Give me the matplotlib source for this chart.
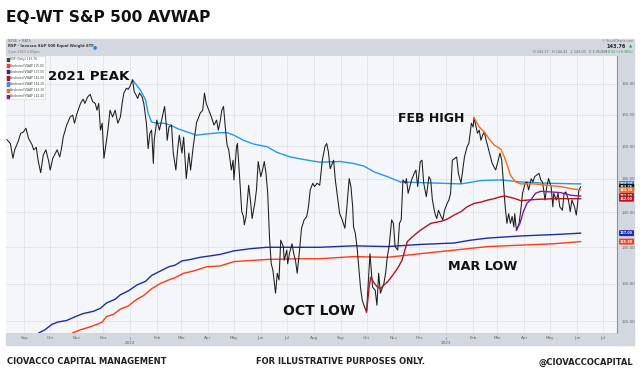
import numpy as np
import matplotlib
matplotlib.use("Agg")
import matplotlib.pyplot as plt
import matplotlib.dates as mdates
from matplotlib.ticker import FixedLocator, NullLocator, NullFormatter, FuncFormatter
from matplotlib.patches import Rectangle, Patch

# ---- data (days counted from 2021-08-11, prices in $) ----
start = np.datetime64("2021-08-11")

rsp_day = [1, 5, 8, 10, 14, 17, 20, 23, 26, 30,
           32, 35, 37, 40, 43, 46, 49, 51, 54, 57,
           59, 62, 64, 66, 70, 74, 77, 79, 82, 86,
           89, 91, 94, 97, 100, 103, 105, 107, 109, 111,
           113, 116, 118, 120, 123, 126, 129, 132, 134, 136,
           139, 141, 143, 146, 148, 150, 152, 154, 157, 159,
           162, 164, 166, 168, 170, 171, 174, 177, 180, 183,
           185, 186, 188, 191, 193, 196, 198, 200, 203, 205,
           208, 211, 213, 216, 220, 222, 224, 227, 229, 231,
           234, 237, 240, 243, 245, 247, 249, 251, 253, 255,
           257, 260, 262, 263, 266, 267, 270, 272, 274, 275,
           277, 280, 282, 284, 287, 289, 291, 294, 296, 298,
           300, 302, 304, 306, 308, 311, 313, 315, 317, 320,
           321, 324, 325, 327, 330, 332, 334, 336, 338, 341,
           344, 347, 349, 351, 354, 356, 359, 362, 365, 368,
           370, 372, 374, 378, 380, 383, 385, 388, 391, 393,
           396, 398, 400, 401, 403, 405, 407, 409, 411, 413,
           416, 418, 420, 423, 426, 428, 430, 432, 436, 438,
           440, 442, 445, 447, 449, 452, 454, 456, 458, 461,
           462, 464, 466, 468, 471, 473, 475, 478, 480, 482,
           485, 488, 490, 492, 495, 497, 499, 502, 504, 506,
           509, 511, 513, 515, 518, 520, 522, 525, 527, 529,
           532, 534, 535, 537, 539, 540, 542, 544, 546, 548,
           550, 552, 554, 556, 559, 561, 563, 565, 568, 570,
           572, 574, 576, 578, 580, 582, 584, 586, 587, 589,
           592, 594, 596, 599, 601, 603, 606, 608, 610, 612,
           615, 617, 619, 622, 624, 626, 629, 631, 632, 635,
           637, 639, 642, 644, 646, 649, 651, 653, 656, 658,
           660, 661, 663]
rsp_close = [151.0, 150.4, 148.1, 149.4, 150.7, 152.0, 152.2, 152.8, 151.2, 150.2,
             149.4, 149.8, 147.8, 145.9, 148.6, 149.4, 147.8, 146.3, 148.1, 148.9,
             149.4, 148.3, 149.6, 151.4, 153.3, 154.6, 154.9, 153.6, 155.2, 156.8,
             157.5, 156.8, 157.8, 158.3, 157.1, 156.8, 155.7, 156.8, 152.5, 153.6,
             148.1, 150.9, 153.0, 155.7, 154.6, 155.7, 153.6, 154.6, 156.8, 158.5,
             159.3, 159.1, 159.6, 160.7, 158.7, 158.2, 157.6, 158.5, 157.9, 156.8,
             153.6, 149.6, 152.0, 152.5, 147.3, 150.9, 154.1, 152.5, 154.4, 156.3,
             153.3, 150.9, 153.0, 153.3, 148.9, 146.3, 149.4, 151.7, 148.9, 151.4,
             145.0, 148.9, 146.3, 149.9, 153.8, 154.4, 155.2, 155.7, 158.5, 156.8,
             155.7, 154.6, 153.3, 154.1, 152.5, 153.8, 155.7, 156.3, 153.0, 150.2,
             149.4, 146.3, 147.8, 144.8, 149.9, 150.4, 144.3, 140.1, 139.4, 138.2,
             139.4, 144.0, 141.8, 139.1, 141.3, 143.3, 147.6, 145.3, 146.3, 147.6,
             145.8, 142.8, 136.5, 132.7, 131.8, 128.7, 131.4, 130.5, 136.0, 135.1,
             133.2, 134.6, 132.7, 134.1, 135.5, 134.1, 133.2, 131.4, 133.7, 137.7,
             138.9, 139.4, 140.8, 143.3, 144.3, 143.8, 144.3, 144.0, 147.8, 149.9,
             150.4, 149.1, 146.5, 147.8, 144.8, 141.8, 139.8, 138.9, 137.7, 140.3,
             145.0, 143.8, 140.8, 137.9, 137.0, 135.1, 132.3, 129.5, 127.8, 127.1,
             126.2, 130.0, 134.1, 129.5, 129.1, 127.1, 131.4, 128.7, 130.0, 131.4,
             133.7, 135.1, 138.9, 138.4, 135.1, 134.6, 138.4, 138.9, 144.8, 144.3,
             145.0, 142.8, 143.8, 144.8, 145.8, 146.3, 143.8, 147.6, 147.8, 144.3,
             142.3, 145.3, 144.8, 141.8, 139.8, 139.1, 140.3, 139.4, 138.9, 140.3,
             141.3, 141.8, 142.8, 147.8, 148.1, 148.3, 145.8, 144.3, 146.3, 148.3,
             149.9, 150.4, 151.4, 153.6, 153.0, 154.5, 153.3, 152.0, 152.5, 150.9,
             151.7, 152.2, 150.9, 149.9, 148.3, 147.3, 146.8, 146.3, 147.8, 148.9,
             147.8, 144.3, 140.8, 138.4, 139.8, 138.4, 139.4, 137.9, 139.8, 137.4,
             138.4, 140.3, 142.8, 144.3, 144.5, 143.3, 145.0, 144.5, 145.3, 145.5,
             145.8, 144.8, 144.5, 141.8, 143.8, 145.0, 143.8, 140.8, 142.8, 141.8,
             142.8, 140.8, 140.3, 142.8, 143.0, 141.8, 140.1, 141.8, 140.8, 139.6,
             141.8, 143.3, 143.76]

# anchored VWAP lines
ored_day = [77, 86, 95, 105, 111, 116, 124, 132, 141, 151,
            159, 168, 178, 188, 195, 205, 216, 232, 247, 263,
            301, 340, 362, 401, 440, 478, 517, 556, 594, 633, 663]
ored_vwap = [123.5, 123.9, 124.2, 124.6, 124.9, 125.6, 125.9, 126.6, 127.0, 127.9,
             128.4, 129.3, 130.0, 130.5, 130.8, 131.4, 131.7, 132.3, 132.4, 133.0,
             133.3, 133.4, 133.4, 133.7, 133.6, 134.1, 134.6, 135.1, 135.3, 135.5, 135.8]

navy_day = [38, 45, 53, 60, 70, 80, 89, 101, 109, 116,
            126, 132, 141, 151, 161, 168, 178, 188, 195, 203,
            213, 224, 236, 247, 263, 282, 301, 328, 362, 401,
            440, 478, 517, 536, 556, 594, 633, 663]
navy_vwap = [123.5, 123.9, 124.6, 124.9, 125.1, 125.6, 126.0, 126.3, 126.7, 127.4,
             127.9, 128.5, 129.0, 129.8, 130.3, 131.1, 131.7, 132.3, 132.5, 133.1,
             133.3, 133.6, 133.8, 134.0, 134.5, 134.8, 135.0, 135.0, 135.0, 135.2,
             135.1, 135.4, 135.6, 136.0, 136.3, 136.6, 136.8, 137.0]

oct_day = [416, 419, 421, 424, 428, 432, 436, 440, 446, 452,
           457, 463, 471, 478, 490, 502, 509, 517, 525, 532,
           540, 548, 556, 563, 571, 575, 582, 590, 594, 602,
           613, 633, 663]
oct_vwap = [126.2, 129.5, 130.9, 130.2, 129.6, 129.3, 129.8, 130.2, 131.1, 132.1,
            133.2, 135.8, 136.7, 137.4, 138.4, 138.7, 139.0, 139.6, 140.1, 140.8,
            141.3, 141.5, 141.8, 142.0, 142.3, 142.4, 142.2, 141.9, 141.7, 141.8,
            141.9, 142.0, 142.0]

peak_day = [146, 155, 161, 164, 168, 174, 182, 190, 197, 209,
            220, 232, 247, 255, 263, 274, 286, 301, 313, 328,
            344, 362, 386, 401, 413, 425, 440, 455, 478, 502,
            525, 548, 571, 594, 625, 663]
peak_vwap = [160.7, 159.0, 157.4, 155.2, 153.8, 153.6, 153.6, 153.3, 152.8, 152.2,
             151.7, 151.9, 152.1, 152.1, 151.7, 150.9, 150.3, 149.9, 149.0, 148.3,
             147.9, 147.5, 147.6, 147.3, 146.9, 146.0, 145.3, 144.5, 144.4, 144.3,
             144.2, 144.7, 144.8, 144.5, 144.3, 144.2]

feb_day = [540, 546, 552, 557, 563, 571, 575, 579, 582, 588, 594, 609, 625, 640, 652, 663]
feb_vwap = [154.5, 153.0, 152.2, 151.2, 150.2, 149.5, 148.3, 146.8, 145.5, 144.5,
            144.2, 144.2, 144.0, 143.8, 143.5, 143.3]

mar_day = [589, 593, 597, 601, 606, 611, 617, 629, 640, 652, 663]
mar_vwap = [137.4, 138.4, 140.1, 141.3, 141.9, 142.8, 143.1, 143.0, 142.9, 142.5, 142.4]

price_ticks = [125, 130, 135, 140, 145, 150, 155, 160]

# ---- figure ----
W, H = 640, 377
fig = plt.figure(figsize=(6.4, 3.77), dpi=100)
fig.patch.set_facecolor("white")

def fx(x):
    return x / W

def fy(y):
    return 1 - y / H

band = "#d3d7e0"
fig.add_artist(Rectangle((fx(6), fy(56)), (634 - 6) / W, (56 - 39) / H,
                         transform=fig.transFigure, color=band, zorder=-2))
fig.add_artist(Rectangle((fx(617), fy(345)), (634 - 617) / W, (345 - 56) / H,
                         transform=fig.transFigure, color=band, zorder=-2))
fig.add_artist(Rectangle((fx(6), fy(345)), (634 - 6) / W, (345 - 333) / H,
                         transform=fig.transFigure, color=band, zorder=-2))

ax = fig.add_axes([fx(6), fy(333), (617 - 6) / W, (333 - 56) / H])
ax.set_facecolor("#f5f6fa")

def dates(days):
    return start + np.array(days, dtype="timedelta64[D]")

c_price = "#1c1c1c"
c_ored = "#ff3b14"
c_navy = "#1a2ea8"
c_oct = "#b3161b"
c_peak = "#1e9bf0"
c_feb = "#ff6a10"
c_mar = "#7a1fa8"

ax.plot(dates(navy_day), navy_vwap, color=c_navy, lw=1.0, zorder=3)
ax.plot(dates(ored_day), ored_vwap, color=c_ored, lw=1.0, zorder=3)
ax.plot(dates(peak_day), peak_vwap, color=c_peak, lw=1.0, zorder=3)
ax.plot(dates(rsp_day), rsp_close, color=c_price, lw=0.75, zorder=4)
ax.plot(dates(oct_day), oct_vwap, color=c_oct, lw=1.0, zorder=5)
ax.plot(dates(feb_day), feb_vwap, color=c_feb, lw=1.0, zorder=5)
ax.plot(dates(mar_day), mar_vwap, color=c_mar, lw=1.0, zorder=5)

ax.set_yscale("log")
ax.set_ylim(123.48, 164.73)
ax.yaxis.set_major_locator(FixedLocator(price_ticks))
ax.yaxis.set_minor_locator(NullLocator())
ax.yaxis.set_minor_formatter(NullFormatter())
ax.yaxis.set_major_formatter(FuncFormatter(lambda v, p: f"{v:.2f}"))
ax.yaxis.tick_right()
ax.tick_params(axis="y", length=0, labelsize=2.8, labelcolor="#666", pad=3.5)

ax.set_xlim(np.datetime64("2021-08-11"), np.datetime64("2023-07-17"))
ax.xaxis.set_major_locator(mdates.MonthLocator())

def month_fmt(v, p):
    d = mdates.num2date(v)
    if d.month == 1:
        return "|\n" + str(d.year)
    return d.strftime("%b")

ax.xaxis.set_major_formatter(FuncFormatter(month_fmt))
ax.tick_params(axis="x", length=0, labelsize=3.0, labelcolor="#666", pad=2.5)

ax.grid(color="#e1e3e9", lw=0.6)
ax.set_axisbelow(True)
for s in ["top", "left", "bottom"]:
    ax.spines[s].set_visible(False)
ax.spines["right"].set_color("#8d929c")
ax.spines["right"].set_linewidth(0.8)

# legend box
handles = [Patch(color="#444444", label=f"RSP (Daily) {rsp_close[-1]:.2f}"),
           Patch(color=c_ored, label=f"Anchored VWAP {ored_vwap[-1]:.2f}"),
           Patch(color=c_navy, label=f"Anchored VWAP {navy_vwap[-1]:.2f}"),
           Patch(color=c_oct, label=f"Anchored VWAP {oct_vwap[-1]:.2f}"),
           Patch(color=c_peak, label=f"Anchored VWAP {peak_vwap[-1]:.2f}"),
           Patch(color=c_feb, label=f"Anchored VWAP {feb_vwap[-1]:.2f}"),
           Patch(color=c_mar, label=f"Anchored VWAP {mar_vwap[-1]:.2f}")]
leg = ax.legend(handles=handles, loc="upper left", fontsize=2.1, frameon=True,
                borderaxespad=0.1, handlelength=0.5, handleheight=1.4,
                handletextpad=0.3, labelspacing=0.75, borderpad=0.35,
                fancybox=False)
leg.get_frame().set_edgecolor("#c5c9d2")
leg.get_frame().set_linewidth(0.4)
for t in leg.get_texts():
    t.set_color("#444")

# value tags on the price scale
tags = [(peak_vwap[-1], c_peak), (rsp_close[-1], "#111111"), (feb_vwap[-1], c_feb),
        (mar_vwap[-1], c_mar), (oct_vwap[-1], c_oct), (navy_vwap[-1], c_navy),
        (ored_vwap[-1], c_ored)]
for v, c in tags:
    ax.annotate(f"{v:.2f}", xy=(1, v), xycoords=("axes fraction", "data"),
                xytext=(2.2, 0), textcoords="offset points", fontsize=2.4,
                color="white", weight="bold", va="center", ha="left",
                annotation_clip=False, zorder=10,
                bbox=dict(boxstyle="round,pad=0.3", fc=c, ec="none"))

# header strip texts
fig.text(fx(8), fy(41.5), "NYSE + BATS", fontsize=2.4, color="#666", va="center")
fig.text(fx(8), fy(46.5), "RSP - Invesco S&P 500 Equal Weight ETF", fontsize=2.7,
         weight="bold", color="#333", va="center")
fig.text(fx(93), fy(46.5), "\u25cf", fontsize=3.4, color="#2f7fe0", va="center")
fig.text(fx(8), fy(51.5), "2-Jun-2023 2:00pm", fontsize=2.3, color="#777", va="center")
fig.text(fx(633), fy(41.5), "\u00a9 StockCharts.com", fontsize=2.3, color="#777",
         va="center", ha="right")
fig.text(fx(626), fy(46.8), "143.76", fontsize=3.6, weight="bold", color="#222",
         va="center", ha="right")
fig.text(fx(632), fy(46.8), "\u25b2", fontsize=3.0, color="#1d9a3c", va="center",
         ha="right")
fig.text(fx(607), fy(51.8), "O 143.17   H 144.41   L 143.00   V 3.9526M", fontsize=2.4,
         color="#666", va="center", ha="right")
fig.text(fx(633), fy(51.8), "+0.52 (+0.36%)", fontsize=2.4, color="#1d9a3c",
         va="center", ha="right")

# title and annotations
fig.text(fx(6), fy(18), "EQ-WT S&P 500 AVWAP", fontsize=11.2, weight="bold",
         color="#111", va="center", family="DejaVu Sans")
fig.text(fx(48), fy(76), "2021 PEAK", fontsize=9.6, weight="bold", color="#111",
         va="center")
fig.text(fx(398), fy(118), "FEB HIGH", fontsize=9.0, weight="bold", color="#111",
         va="center")
fig.text(fx(448), fy(266), "MAR LOW", fontsize=9.2, weight="bold", color="#111",
         va="center")
fig.text(fx(283), fy(311), "OCT LOW", fontsize=10.0, weight="bold", color="#111",
         va="center")

# footer
fig.text(fx(7), fy(362), "CIOVACCO CAPITAL MANAGEMENT", fontsize=6, weight="bold",
         color="#222", va="center")
fig.text(fx(340), fy(362), "FOR ILLUSTRATIVE PURPOSES ONLY.", fontsize=6,
         weight="bold", color="#222", va="center", ha="center")
fig.text(fx(633), fy(362), "@CIOVACCOCAPITAL", fontsize=6, weight="bold",
         color="#222", va="center", ha="right")

fig.savefig("out.png", dpi=100)
